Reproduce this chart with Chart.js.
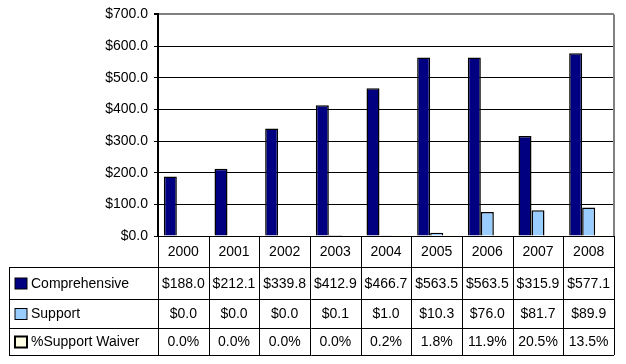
<!DOCTYPE html>
<html>
<head>
<meta charset="utf-8">
<script src="https://cdn.jsdelivr.net/npm/chart.js@4"></script>
<style>
  html, body { margin: 0; padding: 0; background: #fff; }
</style>
</head>
<body>
<canvas id="myChart" width="626" height="364"></canvas>
<script>
// Data

const years = ["2000", "2001", "2002", "2003", "2004", "2005", "2006", "2007", "2008"];
const comprehensive = [188.0, 212.1, 339.8, 412.9, 466.7, 563.5, 563.5, 315.9, 577.1];
const support = [0.0, 0.0, 0.0, 0.1, 1.0, 10.3, 76.0, 81.7, 89.9];
const waiverPct = [0.0, 0.0, 0.0, 0.0, 0.2, 1.8, 11.9, 20.5, 13.5];
const seriesNames = ["Comprehensive", "Support", "%Support Waiver"];

const FONT = "Liberation Sans, Arial, sans-serif";

// Table under the plot, columns follow the category scale

const dataTable = {
    id: "dataTable",
    afterDraw(chart) {
        const { ctx, chartArea } = chart;
        const xs = chart.scales.x;
        const left = chartArea.left, right = chartArea.right, top = chartArea.top, bottom = chartArea.bottom;
        const colW = (right - left) / years.length;
        const rows = [bottom, 267, 299, 328, 355];
        const tableLeft = 9;

        ctx.save();

        // gray frame of the plot area (right side)
        ctx.strokeStyle = "#808080";
        ctx.lineWidth = 2;
        ctx.beginPath();
        ctx.moveTo(right, top);
        ctx.lineTo(right, bottom);
        ctx.stroke();

        ctx.strokeStyle = "#000";
        ctx.lineWidth = 1;
        ctx.beginPath();
        // horizontal lines
        ctx.moveTo(left, Math.round(rows[0]) + 0.5);
        ctx.lineTo(right, Math.round(rows[0]) + 0.5);
        for (let r = 1; r < rows.length; r++) {
            ctx.moveTo(tableLeft, rows[r] + 0.5);
            ctx.lineTo(right, rows[r] + 0.5);
        }
        // vertical lines
        ctx.moveTo(tableLeft + 0.5, rows[1]);
        ctx.lineTo(tableLeft + 0.5, rows[4]);
        for (let i = 0; i <= years.length; i++) {
            const x = Math.round(left + i * colW) + 0.5;
            ctx.moveTo(x, rows[0]);
            ctx.lineTo(x, rows[4]);
        }
        ctx.stroke();

        // text
        ctx.fillStyle = "#000";
        ctx.font = "14px " + FONT;
        ctx.textBaseline = "middle";
        ctx.textAlign = "center";
        const rowMid = (r) => (rows[r] + rows[r + 1]) / 2 + 1;
        years.forEach((y, i) => {
            const cx = xs.getPixelForValue(i);
            ctx.fillText(y, cx, rowMid(0));
            ctx.fillText("$" + comprehensive[i].toFixed(1), cx, rowMid(1));
            ctx.fillText("$" + support[i].toFixed(1), cx, rowMid(2));
            ctx.fillText(waiverPct[i].toFixed(1) + "%", cx, rowMid(3));
        });

        // row labels with legend keys
        const swatchFill = ["#000080", "#99CCFF", "#FFFFE6"];
        const swatchLine = [1, 1, 2];
        ctx.textAlign = "left";
        seriesNames.forEach((name, k) => {
            const my = rowMid(k + 1);
            ctx.fillStyle = swatchFill[k];
            ctx.fillRect(15, my - 6, 12, 11);
            ctx.strokeStyle = "#000";
            ctx.lineWidth = swatchLine[k];
            ctx.strokeRect(15, my - 6, 12, 11);
            ctx.fillStyle = "#000";
            ctx.fillText(name, 31, my);
        });

        ctx.restore();
    }
};

// Config

const config = {
    type: "bar",
    data: {
        labels: years,
        datasets: [
            {
                label: seriesNames[0],
                data: comprehensive,
                backgroundColor: "#000080",
                borderColor: "#000",
                borderWidth: 1.5
            },
            {
                label: seriesNames[1],
                data: support,
                backgroundColor: "#99CCFF",
                borderColor: "#000",
                borderWidth: 1.5
            },
            {
                label: seriesNames[2],
                data: waiverPct.map(v => v / 100),
                backgroundColor: "#FFFFE6",
                borderColor: "#000",
                borderWidth: 0
            }
        ]
    },
    options: {
        responsive: false,
        animation: false,
        layout: {
            padding: { left: 0, right: 12, top: 14, bottom: 128 }
        },
        datasets: {
            bar: {
                categoryPercentage: 0.77,
                barPercentage: 1.0
            }
        },
        plugins: {
            legend: { display: false },
            tooltip: { enabled: false }
        },
        scales: {
            x: {
                display: false
            },
            y: {
                min: 0,
                max: 700,
                afterFit: (scale) => {
                    scale.width = 158;
                },
                ticks: {
                    stepSize: 100,
                    padding: 6,
                    color: "#000",
                    font: { family: FONT, size: 14 },
                    callback: (v) => "$" + Number(v).toFixed(1)
                },
                grid: {
                    color: (c) => (c.tick && c.tick.value === 700 ? "#808080" : "#000"),
                    lineWidth: (c) => (c.tick && c.tick.value === 700 ? 2 : 1),
                    tickColor: "#000",
                    tickLength: 4
                },
                border: {
                    color: "#000",
                    width: 2
                }
            }
        }
    },
    plugins: [dataTable]
};

// Render

const myChart = new Chart(document.getElementById("myChart"), config);
</script>
</body>
</html>
